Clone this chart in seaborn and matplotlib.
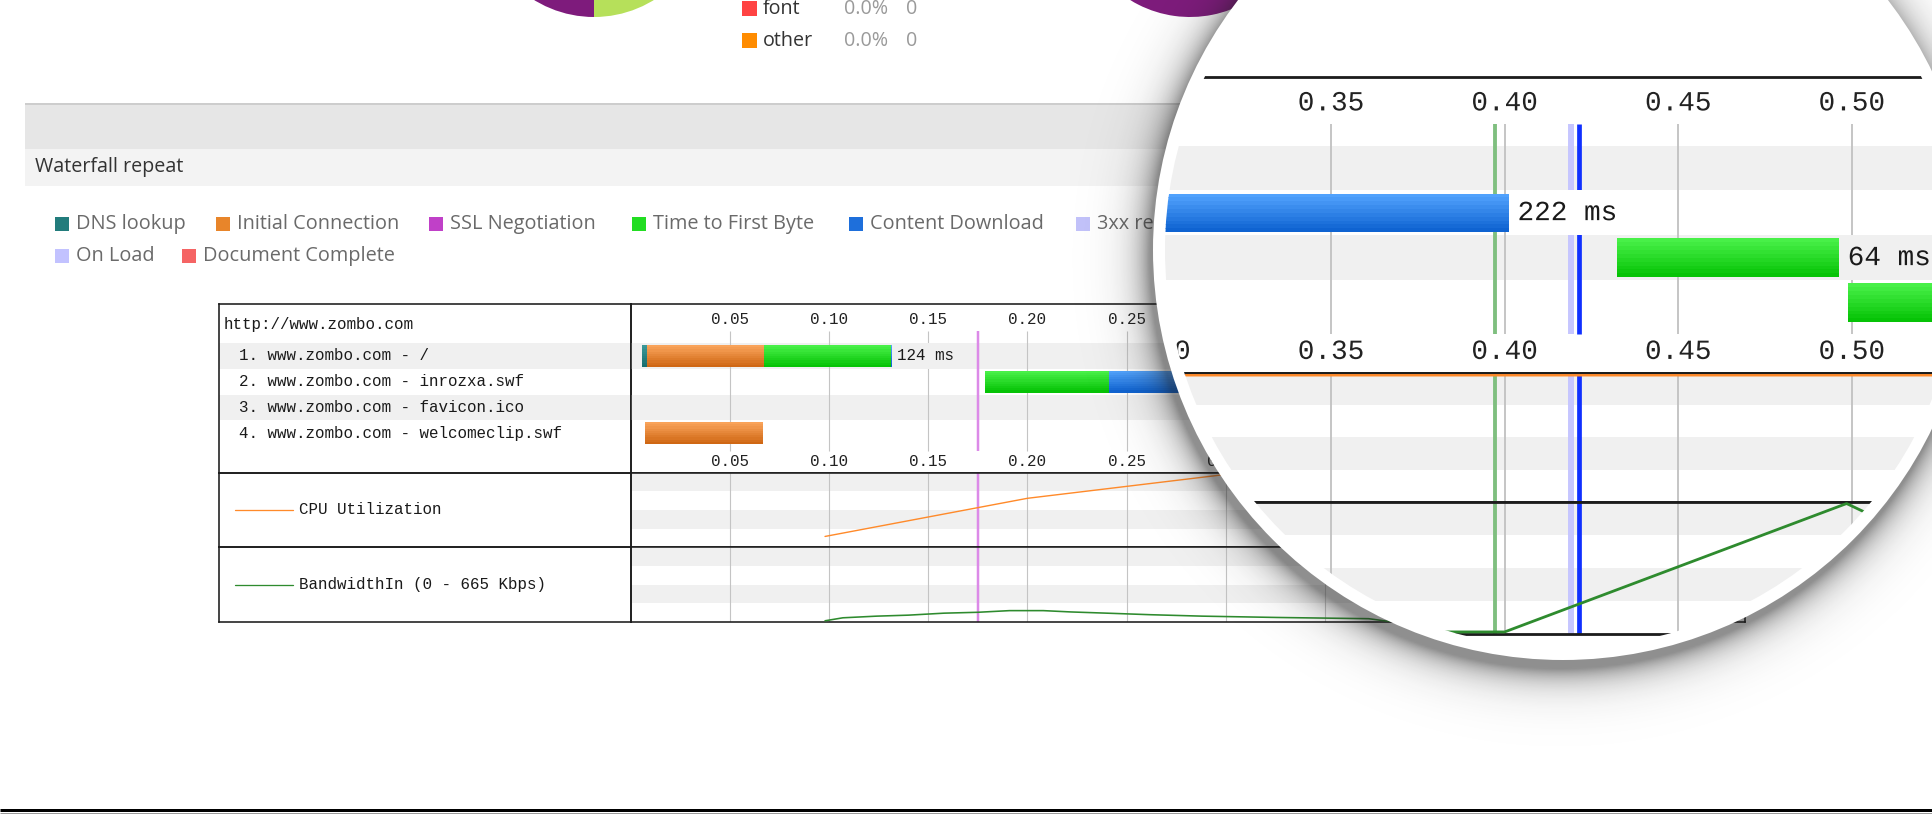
import numpy as np
import matplotlib
matplotlib.use("Agg")
import matplotlib.pyplot as plt
import matplotlib.transforms as mtrans
import seaborn as sns
from matplotlib.patches import Circle, Rectangle, PathPatch
from matplotlib.textpath import TextPath
from matplotlib.font_manager import FontProperties
from matplotlib.colors import to_rgb

sns.set_style("white")
plt.rcParams["font.family"] = ["Open Sans", "DejaVu Sans"]

# ------------------------------------------------------------------ data
pie1_names = ["flash", "image"]
pie1_values = [50, 50]
pie2_names = ["flash", "image"]
pie2_values = [85, 15]
pie_colors = {"flash": "#7e1b7c", "image": "#b6e05a"}

type_names = ["font", "other"]
type_pct = ["0.0%", "0.0%"]
type_count = ["0", "0"]
type_colors = ["#ff4343", "#ff8c00"]

wf_legend_names = ["DNS lookup", "Initial Connection", "SSL Negotiation",
                   "Time to First Byte", "Content Download", "3xx response",
                   "On Load", "Document Complete"]
wf_legend_colors = ["#227c7c", "#e8852a", "#c040c8", "#22dd22",
                    "#1e6fdb", "#c2c2fa", "#c2c2ff", "#f56464"]

page_url = "http://www.zombo.com"
request_names = ["www.zombo.com - /", "www.zombo.com - inrozxa.swf",
                 "www.zombo.com - favicon.ico", "www.zombo.com - welcomeclip.swf"]
request_ms = [124, 222, 64, 40]

seg_row = [1, 1, 1, 1, 2, 2, 3, 4, 4]
seg_phase = ["dns", "connect", "ttfb", "download", "ttfb", "download", "ttfb", "connect", "ttfb"]
seg_start = [0.0058, 0.0081, 0.0670, 0.1310, 0.1786, 0.2413, 0.4323, 0.0073, 0.4990]
seg_end = [0.0081, 0.0670, 0.1310, 0.1318, 0.2413, 0.4012, 0.4963, 0.0668, 0.5390]

event_times = [0.1753, 0.3972, 0.4191, 0.4213]
event_colors = ["#dc8ae8", "#7fbf7f", "#c6c6ff", "#1030ff"]
event_width_px = [2.5, 2.2, 3.4, 2.7]

time_ticks = [0.05, 0.10, 0.15, 0.20, 0.25, 0.30, 0.35, 0.40, 0.45, 0.50, 0.55]

cpu_time = [0.098, 0.20, 0.30, 0.40, 0.50, 0.56]
cpu_pct = [13.5, 66.7, 100, 100, 100, 100]

bw_time = [0.098, 0.107, 0.124, 0.140, 0.158, 0.175, 0.191, 0.208, 0.222, 0.240,
           0.262, 0.288, 0.326, 0.372, 0.381, 0.400, 0.4985, 0.504, 0.515]
bw_kbps = [3, 30, 45, 54, 72, 80, 95, 95, 83, 72,
           58, 45, 33, 22, 0, 0, 665, 618, 520]
bw_max = 665

# ------------------------------------------------------------------ style / layout
W, H, DPI = 1932, 838, 100
PT = 72.0 / DPI
MONO = ["Liberation Mono", "DejaVu Sans Mono"]
SANS = ["Open Sans", "DejaVu Sans"]
BAND = "#f0f0f0"
GRID = "#c4c4c4"
BORDER = "#1c1c1c"
CPU_COLOR = "#ff8a2a"
BW_COLOR = "#2e8b2e"
phase_top = {"dns": "#3d9a9a", "connect": "#fba65e", "ttfb": "#4cf34c", "download": "#55a6ff"}
phase_bot = {"dns": "#166b6b", "connect": "#cd6410", "ttfb": "#02c002", "download": "#0b5fcf"}

TBL_L, TBL_T, TBL_R, TBL_B = 219, 304, 1745, 622
COL_X = 630.6
DIV1, DIV2 = 473, 547
PX_PER_S = 1984.0
ROW1_Y, ROW_H = 356.0, 25.7
HDR_Y, TICK_TOP_Y, TICK_BOT_Y = 324, 319, 461
GRID_T, GRID_B = 331, 451
FS = 11.4
MAG = 1.75
CX, CY, R_IN, R_OUT = 1563, 250, 398, 410


def ry(py):
    return (py - ROW1_Y) / ROW_H + 1


def mix(c1, c2, f):
    a, b = np.array(to_rgb(c1)), np.array(to_rgb(c2))
    return tuple(a * (1 - f) + b * f)


fig = plt.figure(figsize=(W / DPI, H / DPI), dpi=DPI)
fig.patch.set_facecolor("white")

# ------------------------------------------------------------------ page background
bg = fig.add_axes([0, 0, 1, 1], zorder=0)
bg.set_xlim(0, W)
bg.set_ylim(H, 0)
bg.axis("off")
bg.add_patch(Rectangle((25, 105), W, 44, fc="#e6e6e6", ec="none"))
bg.plot([25, W], [104.5, 104.5], color="#cdcdcd", lw=2 * PT, solid_capstyle="butt")
bg.add_patch(Rectangle((25, 149), W, 37, fc="#f3f3f3", ec="none"))
bg.text(35, 167, "Waterfall repeat", fontsize=14.2, color="#333333", va="center", family=SANS)

wf_leg_pos = [(55, 224), (216, 224), (429, 224), (632, 224), (849, 224), (1076, 224),
              (55, 256), (182, 256)]
for (lx, ly), name, col in zip(wf_leg_pos, wf_legend_names, wf_legend_colors):
    bg.add_patch(Rectangle((lx, ly - 7), 14, 14, fc=col, ec="none"))
    bg.text(lx + 21, ly, name, fontsize=14.3, color="#6a6a6a", va="center", family=SANS)

type_y = [9, 41]
for yy, name, pct, cnt, col in zip(type_y, type_names, type_pct, type_count, type_colors):
    bg.add_patch(Rectangle((742, yy - 7.5), 15, 15, fc=col, ec="none"))
    bg.text(763, yy, name, fontsize=14.2, color="#333333", va="center", family=SANS)
    bg.text(844, yy, pct, fontsize=14.2, color="#9a9a9a", va="center", family=SANS)
    bg.text(906, yy, cnt, fontsize=14.2, color="#9a9a9a", va="center", family=SANS)

bg.plot([0, W], [810, 810], color="black", lw=3 * PT, solid_capstyle="butt")
bg.plot([0, W], [812.5, 812.5], color="#9a9a9a", lw=1 * PT, solid_capstyle="butt")


def pie_axes(cx, cy, r):
    ax = fig.add_axes([(cx - r) / W, 1 - (cy + r) / H, 2 * r / W, 2 * r / H], zorder=0.5)
    return ax


ax_p1 = pie_axes(594, -97, 114)
ax_p1.pie(pie1_values, colors=[pie_colors[n] for n in pie1_names], startangle=90,
          wedgeprops=dict(linewidth=0))
ax_p1.set_xlim(-1, 1)
ax_p1.set_ylim(-1, 1)
ax_p2 = pie_axes(1190, -97, 114)
ax_p2.pie(pie2_values, colors=[pie_colors[n] for n in pie2_names], startangle=90,
          wedgeprops=dict(linewidth=0))
ax_p2.set_xlim(-1, 1)
ax_p2.set_ylim(-1, 1)


# ------------------------------------------------------------------ waterfall drawing
def draw_waterfall(T, s, z, clip=None, as_path=False):
    made = []

    def mk(x0, y0, x1, y1):
        X0, Y0 = T(x0, y0)
        X1, Y1 = T(x1, y1)
        ax = fig.add_axes([X0 / W, 1 - Y1 / H, (X1 - X0) / W, (Y1 - Y0) / H], zorder=z)
        ax.set_facecolor("none")
        ax.set_xticks([])
        ax.set_yticks([])
        for sp in ax.spines.values():
            sp.set_visible(True)
            sp.set_color(BORDER)
            sp.set_linewidth(1.6 * PT * s)
        made.append(ax)
        return ax

    def txt(ax, x, y, s_, color="#1a1a1a", ha="left"):
        size = FS * s
        if not as_path:
            ax.text(x, y, s_, transform=ax.transData, fontsize=size, family=MONO,
                    color=color, ha=ha, va="center", zorder=6)
            return
        fp = FontProperties(family=MONO)
        tp = TextPath((0, 0), s_, size=size, prop=fp)
        ref = TextPath((0, 0), "lp", size=size, prop=fp).get_extents()
        bb = tp.get_extents()
        dx = 0 if ha == "left" else -(bb.x0 + bb.x1) / 2
        dy = -(ref.y0 + ref.y1) / 2
        X, Y = ax.transData.transform((x, y))
        tr = mtrans.Affine2D().translate(dx, dy).scale(DPI / 72.0).translate(X, Y)
        p = PathPatch(tp, transform=tr, fc=color, ec="none", lw=0, zorder=6)
        p.set_clip_path(clip)
        ax.add_artist(p)

    xmax = (TBL_R - COL_X) / PX_PER_S
    ylo, yhi = ry(DIV1), ry(TBL_T)
    fx = lambda px: (px - TBL_L) / (COL_X - TBL_L)

    # request rows: labels column
    axl = mk(TBL_L, TBL_T, COL_X, DIV1)
    axl.set_xlim(0, 1)
    axl.set_ylim(ylo, yhi)
    axr = mk(COL_X, TBL_T, TBL_R, DIV1)
    axr.set_xlim(0, xmax)
    axr.set_ylim(ylo, yhi)
    for r in range(1, len(request_names) + 1):
        if r % 2 == 1:
            axl.axhspan(r - 0.5, r + 0.5, color=BAND, lw=0, zorder=0)
            axr.axhspan(r - 0.5, r + 0.5, color=BAND, lw=0, zorder=0)
    txt(axl, fx(224), ry(HDR_Y), page_url)
    for i, name in enumerate(request_names, 1):
        txt(axl, fx(239), i, f"{i}. {name}")

    # timeline rows
    axr.vlines(time_ticks, ry(GRID_T), ry(GRID_B), colors=GRID, lw=1.1 * PT * s, zorder=1)
    axr.vlines(event_times, ry(GRID_T), ry(GRID_B), colors=event_colors,
               lw=[w * PT * s for w in event_width_px], zorder=2)
    rows = np.array(seg_row, float)
    starts = np.array(seg_start)
    widths = np.array(seg_end) - starts
    bh, n = 0.86, 10
    for k in range(n):
        f = (k + 0.5) / n
        cols = [mix(phase_top[p], phase_bot[p], f) for p in seg_phase]
        yk = rows - bh / 2 + (k + 0.5) * bh / n
        axr.barh(yk, widths, left=starts, height=bh / n * 1.06, color=cols, lw=0, zorder=3)
    char_px = 0.6 * FS * DPI / 72.0
    for i, ms in enumerate(request_ms, 1):
        end = max(e for rr, e in zip(seg_row, seg_end) if rr == i)
        lab = f"{ms} ms"
        bgw = (len(lab) * char_px + 8) / PX_PER_S
        axr.barh(i, bgw, left=end + 1.5 / PX_PER_S, height=1.0,
                 color=BAND if i % 2 == 1 else "white", lw=0, zorder=4)
        txt(axr, end + 5 / PX_PER_S, i, lab)
    for t in time_ticks:
        txt(axr, t, ry(TICK_TOP_Y), f"{t:.2f}", color="#222222", ha="center")
        txt(axr, t, ry(TICK_BOT_Y), f"{t:.2f}", color="#222222", ha="center")

    # CPU + bandwidth panels
    panels = [(DIV1, DIV2, cpu_time, cpu_pct, 100 * 1.02, CPU_COLOR, "CPU Utilization", 1.4),
              (DIV2, TBL_B, bw_time, bw_kbps, bw_max * 1.01, BW_COLOR,
               f"BandwidthIn (0 - {bw_max} Kbps)", 1.6)]
    for y0, y1, tx, vy, ytop, col, label, lwp in panels:
        axp = mk(COL_X, y0, TBL_R, y1)
        for yb in (0.75, 0.25):
            axp.add_patch(Rectangle((0, yb), 1, 0.25, transform=axp.transAxes,
                                    fc=BAND, ec="none", zorder=0))
        axp.vlines(time_ticks, 0, 1, transform=axp.get_xaxis_transform(), colors=GRID,
                   lw=1.1 * PT * s, zorder=1)
        axp.vlines(event_times, 0, 1, transform=axp.get_xaxis_transform(), colors=event_colors,
                   lw=[w * PT * s for w in event_width_px], zorder=2)
        sns.lineplot(x=tx, y=vy, ax=axp, color=col, linewidth=lwp * PT * s, zorder=4)
        axp.set_xlabel("")
        axp.set_ylabel("")
        axp.set_xticks([])
        axp.set_yticks([])
        axp.set_xlim(0, xmax)
        axp.set_ylim(-ytop * 0.012, ytop)

        axq = mk(TBL_L, y0, COL_X, y1)
        axq.set_xlim(0, 1)
        axq.set_ylim(0, 1)
        axq.plot([fx(235), fx(293)], [0.5, 0.5], color=col, lw=1.3 * PT * s)
        txt(axq, fx(299), 0.5, label)

    if clip is not None:
        for ax in made:
            for a in ax.get_children():
                a.set_clip_path(clip)
    return made


# main waterfall
draw_waterfall(lambda x, y: (x, y), 1.0, z=2)

# ------------------------------------------------------------------ magnifier
ov = fig.add_axes([0, 0, 1, 1], zorder=10)
ov.axis("off")
step = 2
yy, xx = np.mgrid[0:H:step, 0:W:step] + step / 2.0
d = np.hypot(xx - CX + 3, yy - CY - 9)
alpha = np.clip(0.5 * np.exp(-(d - R_OUT) / 16.0), 0, 0.5)
img = np.zeros(xx.shape + (4,))
img[..., :3] = 0.12
img[..., 3] = alpha
ov.imshow(img, extent=(0, W, H, 0), interpolation="bilinear", zorder=0)
ov.add_patch(Circle((CX, CY), R_OUT, fc="white", ec="none", zorder=1))
ov.set_xlim(0, W)
ov.set_ylim(H, 0)
ov.set_aspect("auto")

clip_circle = Circle((CX, CY), R_IN, transform=ov.transData)
draw_waterfall(lambda x, y: (1331 + MAG * (x - 1325), -455 + MAG * y), MAG, z=11,
               clip=clip_circle, as_path=True)

fig.savefig("out.png", dpi=DPI, facecolor="white")
